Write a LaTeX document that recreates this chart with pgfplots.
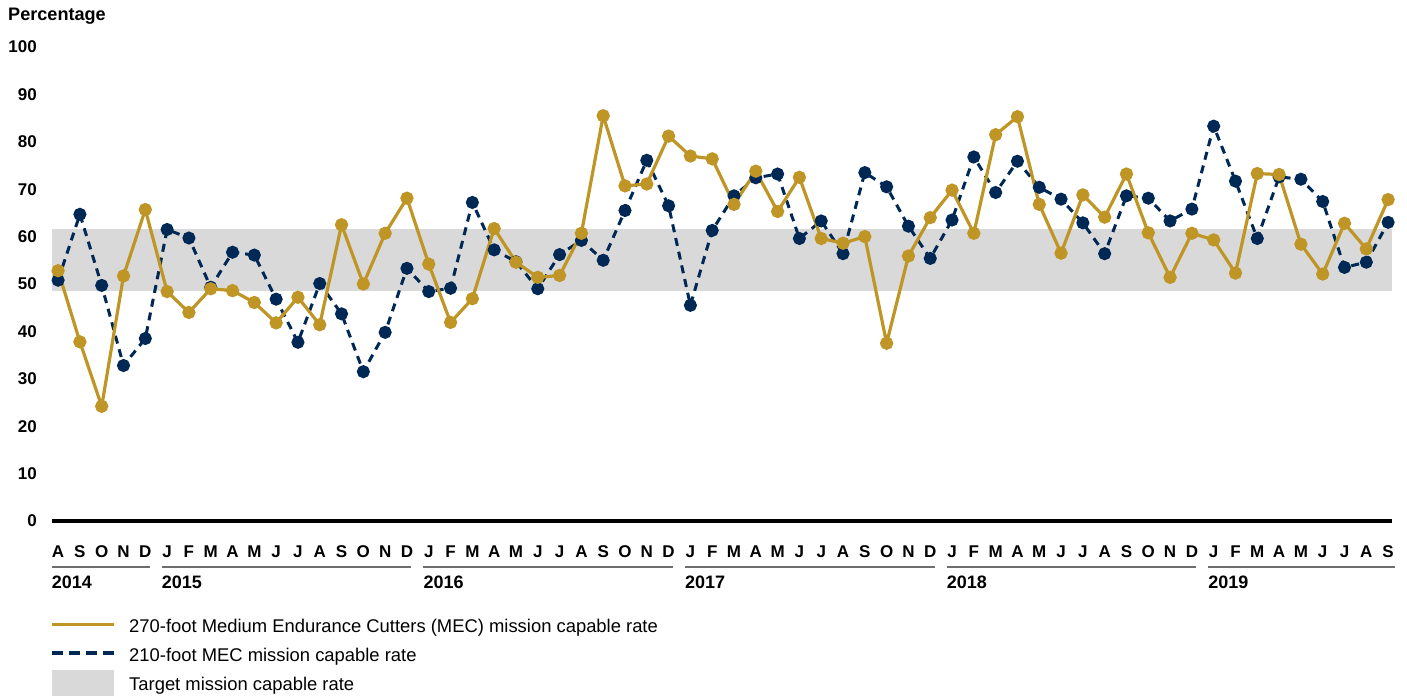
\documentclass[border=0pt]{standalone}
\usepackage{fontspec}
\setmainfont{Liberation Sans}
\usepackage{pgfplots}
\pgfplotsset{compat=1.18}
\definecolor{gold}{RGB}{191,150,38}
\definecolor{navy}{RGB}{0,40,85}
\definecolor{band}{RGB}{217,217,217}
\definecolor{yl}{RGB}{110,110,110}
\pgfplotstableread{
i v
0 52.8
1 37.8
2 24.2
3 51.7
4 65.7
5 48.4
6 44.0
7 49.0
8 48.6
9 46.1
10 41.8
11 47.2
12 41.4
13 62.5
14 50.0
15 60.7
16 68.1
17 54.2
18 41.9
19 46.9
20 61.7
21 54.6
22 51.4
23 51.8
24 60.7
25 85.5
26 70.7
27 71.1
28 81.2
29 77.0
30 76.4
31 66.8
32 73.8
33 65.3
34 72.5
35 59.6
36 58.6
37 60.0
38 37.5
39 55.9
40 64.0
41 69.8
42 60.7
43 81.5
44 85.3
45 66.8
46 56.5
47 68.8
48 64.1
49 73.2
50 60.8
51 51.4
52 60.7
53 59.3
54 52.3
55 73.3
56 73.1
57 58.4
58 52.1
59 62.8
60 57.4
61 67.8
}\goldtab
\pgfplotstableread{
i v
0 50.8
1 64.7
2 49.7
3 32.8
4 38.5
5 61.5
6 59.7
7 49.3
8 56.7
9 56.1
10 46.8
11 37.7
12 50.1
13 43.7
14 31.5
15 39.8
16 53.3
17 48.4
18 49.1
19 67.2
20 57.2
21 54.7
22 49.0
23 56.2
24 59.2
25 55.0
26 65.5
27 76.1
28 66.5
29 45.5
30 61.3
31 68.6
32 72.4
33 73.2
34 59.6
35 63.3
36 56.4
37 73.5
38 70.5
39 62.2
40 55.4
41 63.5
42 76.8
43 69.3
44 75.9
45 70.4
46 67.9
47 62.9
48 56.4
49 68.6
50 68.1
51 63.3
52 65.8
53 83.3
54 71.7
55 59.6
56 72.6
57 72.1
58 67.4
59 53.5
60 54.6
61 63.0
}\navytab
\tikzset{yline/.style={yl, line width=2pt}, ylab/.style={anchor=base west, inner sep=0pt, font=\fontsize{18}{21}\selectfont\bfseries}}
\begin{document}
\begin{tikzpicture}
\useasboundingbox (0,0) rectangle (1407pt,696pt);
\begin{axis}[
 at={(52pt,175pt)}, anchor=south west,
 scale only axis, width=1340pt, height=474pt,
 xmin=-0.28, xmax=61.18, ymin=0, ymax=100,
 axis line style={draw=none},
 ytick={0,10,...,100},
 xtick={0,...,61},
 xticklabels={A,S,O,N,D,J,F,M,A,M,J,J,A,S,O,N,D,J,F,M,A,M,J,J,A,S,O,N,D,J,F,M,A,M,J,J,A,S,O,N,D,J,F,M,A,M,J,J,A,S,O,N,D,J,F,M,A,M,J,J,A,S},
 major tick length=0pt,
 tick label style={font=\fontsize{17}{20}\selectfont\bfseries},
 /pgf/number format/assume math mode=true,
 yticklabel style={anchor=east, inner sep=0pt, xshift=-15pt},
 xticklabel style={anchor=base, inner sep=0pt, yshift=-36pt},
 clip=false,
]
\addplot[draw=none, fill=band] coordinates {(-0.28,48.5) (61.18,48.5) (61.18,61.5) (-0.28,61.5)} -- cycle;
\addplot[navy, line width=3pt, dash pattern=on 8pt off 6pt, mark=*, mark size=5pt, mark options={solid, fill=navy}] table[x=i,y=v] {\navytab};
\addplot[gold, line width=3.2pt, mark=*, mark size=5pt, mark options={fill=gold}] table[x=i,y=v] {\goldtab};
\draw[black, line width=4pt] (axis cs:-0.28,0) -- (axis cs:61.18,0);
\draw[yline] ([yshift=-46pt]axis cs:-0.3,0) -- ([yshift=-46pt]axis cs:4.2,0);
\draw[yline] ([yshift=-46pt]axis cs:4.75,0) -- ([yshift=-46pt]axis cs:16.2,0);
\draw[yline] ([yshift=-46pt]axis cs:16.75,0) -- ([yshift=-46pt]axis cs:28.2,0);
\draw[yline] ([yshift=-46pt]axis cs:28.75,0) -- ([yshift=-46pt]axis cs:40.2,0);
\draw[yline] ([yshift=-46pt]axis cs:40.75,0) -- ([yshift=-46pt]axis cs:52.2,0);
\draw[yline] ([yshift=-46pt]axis cs:52.75,0) -- ([yshift=-46pt]axis cs:61.3,0);
\node[ylab] at ([yshift=-67pt]axis cs:-0.3,0) {2014};
\node[ylab] at ([yshift=-67pt]axis cs:4.75,0) {2015};
\node[ylab] at ([yshift=-67pt]axis cs:16.75,0) {2016};
\node[ylab] at ([yshift=-67pt]axis cs:28.75,0) {2017};
\node[ylab] at ([yshift=-67pt]axis cs:40.75,0) {2018};
\node[ylab] at ([yshift=-67pt]axis cs:52.75,0) {2019};
\end{axis}
\node[anchor=west, inner sep=0pt, font=\fontsize{18.1}{21}\selectfont\bfseries] at (8pt,680pt) {Percentage};
\draw[gold, line width=3pt] (52pt,72pt) -- (114pt,72pt);
\node[anchor=base west, inner sep=0pt, font=\fontsize{18.4}{21}\selectfont] at (129pt,64pt) {270-foot Medium Endurance Cutters (MEC) mission capable rate};
\draw[navy, line width=3.3pt, dash pattern=on 11pt off 6pt] (52pt,43pt) -- (114pt,43pt);
\node[anchor=base west, inner sep=0pt, font=\fontsize{18.4}{21}\selectfont] at (129pt,35pt) {210-foot MEC mission capable rate};
\fill[band] (52pt,0pt) rectangle (114pt,26pt);
\node[anchor=base west, inner sep=0pt, font=\fontsize{18.4}{21}\selectfont] at (129pt,6pt) {Target mission capable rate};
\end{tikzpicture}
\end{document}
